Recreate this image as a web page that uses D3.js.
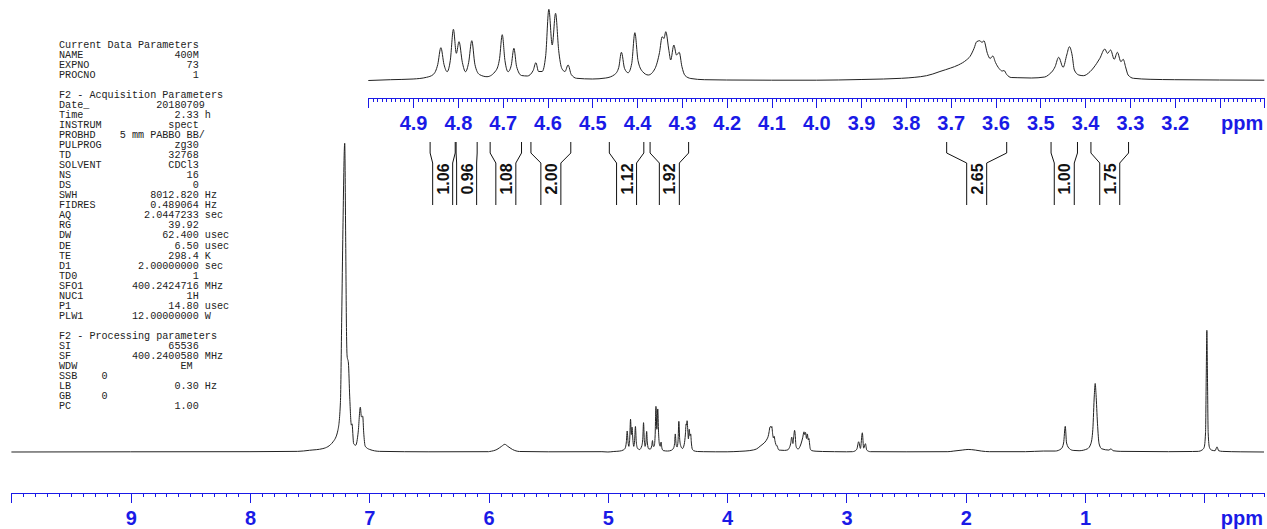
<!DOCTYPE html>
<html>
<head>
<meta charset="utf-8">
<script src="https://cdn.jsdelivr.net/npm/d3@7"></script>
<style>
  html, body { margin: 0; padding: 0; background: #fff; }
  svg { display: block; }
  .params text { font-family: "Liberation Mono", "DejaVu Sans Mono", monospace; font-size: 10.15px; fill: #222; white-space: pre; }
  .axis text { font-family: "Liberation Sans", Arial, sans-serif; font-weight: bold; font-size: 20px; fill: #1a1ae6; }
  .axis path, .axis line { stroke: #1a1ae6; stroke-width: 1; shape-rendering: crispEdges; }
  .integral text { font-family: "Liberation Sans", Arial, sans-serif; font-weight: bold; font-size: 16px; fill: #111; }
</style>
</head>
<body>
<svg id="chart" width="1267" height="529"></svg>
<script>
// 1H spectrum trace, [ppm, intensity] pairs (descending ppm).
const traceHigh = [
  [10.0,0],[9.0,0.3],[8.0,0.5],[7.6,1],[7.5,2.7],[7.389,5.3],[7.305,15.6],[7.263,34],[7.242,77],
  [7.231,211],[7.221,347],[7.206,482],[7.198,336],[7.191,188],[7.186,150],[7.175,139],[7.164,86],
  [7.150,42],[7.145,44],[7.131,13],[7.114,10.5],[7.093,31],[7.075,70],[7.066,55],[7.055,56],
  [7.047,31],[7.034,9],[6.997,4],[6.913,1],[6.5,0.3],[6.0,0.5],[5.99,0.8],[5.93,4],[5.89,9],
  [5.864,12],[5.84,9],[5.80,4],[5.74,0.8],[5.5,0.3],[5.05,0.5]
];
const traceMid = [
  [5.00,0],[4.95,0.8],[4.90,1.5],[4.87,3.2],[4.855,6],[4.845,16],[4.838,32.8],[4.831,16],[4.824,8.8],
  [4.817,20],[4.810,51.2],[4.8035,27.2],[4.7975,38.8],[4.790,18],[4.783,8.8],[4.776,18],[4.769,39.8],
  [4.762,16],[4.752,6],[4.735,3.8],[4.715,10],[4.707,22],[4.701,45.8],[4.695,20],[4.688,8.8],
  [4.681,15],[4.675,32.2],[4.669,14],[4.658,5],[4.645,4.5],[4.632,10],[4.626,17.8],[4.620,9],
  [4.612,9],[4.604,25],[4.597,71.2],[4.5895,35.5],[4.582,67.2],[4.575,30],[4.568,12],[4.561,9],
  [4.554,15.5],[4.547,6],[4.535,2.2],[4.50,1.5],[4.47,2.5],[4.45,6],[4.441,13],[4.435,28.2],
  [4.428,12],[4.420,7.8],[4.412,17],[4.405,47.8],[4.398,20],[4.388,9],[4.375,5.5],[4.360,12],
  [4.350,28],[4.344,43.8],[4.340,42],[4.336,48.8],[4.329,30],[4.325,20.5],[4.318,35.5],[4.312,25.5],
  [4.306,28.2],[4.300,14],[4.293,5],[4.28,2],[4.25,0.8],[4.20,0.5],[4.10,0.3],[4.00,0.3],
  [3.90,1],[3.85,1.5],[3.81,2.2],[3.78,3.2],[3.754,4.8],[3.74,6.5],[3.724,9],[3.70,12.5],
  [3.683,15.5],[3.665,20.5],[3.657,24],[3.648,32],[3.642,38.8],[3.635,39.8],[3.630,38],[3.626,39.8],
  [3.618,27],[3.612,22],[3.606,24.5],[3.600,18],[3.592,12],[3.585,9.5],[3.581,10],[3.575,6],
  [3.565,3],[3.55,2.8],[3.52,2.5],[3.49,3.5],
  [3.482,5.5],[3.467,13.8],[3.459,23.2],[3.449,13.2],[3.441,25.5],[3.435,33.8],[3.429,25.5],
  [3.424,10.5],[3.414,5.5],[3.404,4.8],[3.389,8.8],[3.374,17.2],[3.367,22.2],[3.356,31.5],
  [3.350,27.2],[3.343,30.5],[3.335,21.2],[3.328,28.2],[3.320,18.8],[3.315,21.2],[3.309,12.5],
  [3.304,5.5],[3.292,2.2],[3.255,1.2],[3.20,0.8],[3.10,0.5],[3.00,0.3]
];
const traceLow = [
  [2.95,0.5],[2.93,1.5],[2.912,5],[2.898,16],[2.883,5.6],[2.867,30],[2.856,6],[2.841,13],[2.83,3],
  [2.80,0.5],[2.5,0.3],[2.15,0.5],[2.10,1.5],[2.03,3],[1.98,4],[1.92,3],[1.87,1.5],[1.80,0.5],
  [1.5,0.5],[1.35,1.5],[1.25,1.5],[1.20,5],[1.18,14],[1.166,40],[1.155,14],[1.13,5],[1.10,2.5],
  [1.05,2],[0.98,5],[0.952,12.6],[0.935,35],[0.922,90],[0.915,107],[0.908,90],[0.896,45],
  [0.882,12.6],[0.86,5],[0.80,3],[0.783,5],[0.765,2],[0.70,1],[0.30,0.5],[0.10,0.8],[0.05,1],
  [0.02,3],[0.002,7],[-0.010,30],[-0.016,120],[-0.021,190],[-0.026,120],[-0.032,30],[-0.043,7],
  [-0.06,3],[-0.09,2],[-0.106,8],[-0.12,2],[-0.15,1],[-0.3,0.3],[-0.5,0]
];

// Integral regions (ppm limits) and their values
const integralFrom   = [4.862, 4.804, 4.728, 4.637, 4.462, 4.371, 3.709, 3.476, 3.387];
const integralTo     = [4.806, 4.757, 4.658, 4.548, 4.385, 4.285, 3.575, 3.417, 3.303];
const integralLabels = ["1.06", "0.96", "1.08", "2.00", "1.12", "1.92", "2.65", "1.00", "1.75"];

// Axis ticks
const mainMajorTicks = [10, 9, 8, 7, 6, 5, 4, 3, 2, 1, 0];
const mainTickLabels = ["", "9", "8", "7", "6", "5", "4", "3", "2", "1", ""];
const insetMajorTicks = [5.0, 4.9, 4.8, 4.7, 4.6, 4.5, 4.4, 4.3, 4.2, 4.1, 4.0, 3.9, 3.8, 3.7, 3.6, 3.5, 3.4, 3.3, 3.2, 3.1, 3.0];
const insetTickLabels = ["", "4.9", "4.8", "4.7", "4.6", "4.5", "4.4", "4.3", "4.2", "4.1", "4.0", "3.9", "3.8", "3.7", "3.6", "3.5", "3.4", "3.3", "3.2", "", ""];

// Acquisition / processing parameter listing: [name, value, unit, value end column]
const paramHeader1 = "Current Data Parameters";
const paramGroup1 = [["NAME","400M"],["EXPNO","73"],["PROCNO","1"]];
const paramHeader2 = "F2 - Acquisition Parameters";
const paramGroup2 = [
  ["Date_","20180709","",24],["Time","2.33","h"],["INSTRUM","spect"],["PROBHD","5 mm PABBO BB/","",24],
  ["PULPROG","zg30"],["TD","32768"],["SOLVENT","CDCl3"],["NS","16"],["DS","0"],
  ["SWH","8012.820","Hz"],["FIDRES","0.489064","Hz"],["AQ","2.0447233","sec"],["RG","39.92"],
  ["DW","62.400","usec"],["DE","6.50","usec"],["TE","298.4","K"],["D1","2.00000000","sec"],
  ["TD0","1"],["SFO1","400.2424716","MHz"],["NUC1","1H"],["P1","14.80","usec"],["PLW1","12.00000000","W"]
];
const paramHeader3 = "F2 - Processing parameters";
const paramGroup3 = [
  ["SI","65536"],["SF","400.2400580","MHz"],["WDW","EM","",22],["SSB","0","",8],
  ["LB","0.30","Hz"],["GB","0","",8],["PC","1.00"]
];

const svg = d3.select("#chart");

// ---------- scales ----------
const xMain = d3.scaleLinear().domain([10.0, -0.5]).range([11.4, 1264]);
const yMain = d3.scaleLinear().domain([0, 482]).range([452, 143.3]);
const xInset = d3.scaleLinear().domain([5.0, 3.0]).range([368.3, 1264.3]);
const yInset = d3.scaleLinear().domain([0, 71.2]).range([80.5, 9.3]);

const fullTrace = traceHigh.concat(traceMid, traceLow);

// ---------- spectrum traces ----------
const mainLine = d3.line().x(d => xMain(d[0])).y(d => yMain(d[1])).curve(d3.curveMonotoneX);
svg.append("path").datum(fullTrace)
  .attr("d", mainLine).attr("fill", "none").attr("stroke", "#222").attr("stroke-width", 1);

const insetLine = d3.line().x(d => xInset(d[0])).y(d => yInset(d[1])).curve(d3.curveMonotoneX);
svg.append("path").datum(traceMid)
  .attr("d", insetLine).attr("fill", "none").attr("stroke", "#222").attr("stroke-width", 1);

// ---------- axes ----------
function drawAxis(scale, y, majors, labels, minorStep, minorSize) {
  const [d0, d1] = scale.domain();
  const n = Math.round((d0 - d1) / minorStep);
  const minors = d3.range(n + 1).map(i => +(d0 - i * minorStep).toFixed(3));
  const g = svg.append("g").attr("class", "axis").attr("transform", `translate(0,${y})`);
  g.append("g").call(d3.axisBottom(scale).tickValues(minors).tickSize(minorSize).tickSizeOuter(0).tickFormat(""));
  const maj = g.append("g").call(d3.axisBottom(scale).tickValues(majors).tickSize(10).tickSizeOuter(0).tickPadding(8)
    .tickFormat((d, i) => labels[i]));
  maj.select(".domain").remove();
  maj.selectAll("text").attr("font-size", null).attr("font-family", null).attr("fill", null);
  g.append("text").attr("x", scale.range()[1] - 1).attr("y", 32).attr("text-anchor", "end").text("ppm");
  g.selectAll(".domain").attr("stroke", null);
  g.selectAll(".tick line").attr("stroke", null);
}
drawAxis(xMain, 493, mainMajorTicks, mainTickLabels, 0.1, 4);
drawAxis(xInset, 98, insetMajorTicks, insetTickLabels, 0.01, 3.5);

// ---------- integrals ----------
const ig = svg.append("g").attr("class", "integral");
integralLabels.forEach((lab, i) => {
  const xl = xInset(integralFrom[i]), xr = xInset(integralTo[i]);
  const cx = (xl + xr) / 2;
  const hw = Math.min(10, (xr - xl) / 2);
  const il = cx - hw, ir = cx + hw;
  const pts = (xo, xi) => [[xo, 142], [xo, 153], [xi, 163], [xi, 205]];
  const ln = d3.line();
  ig.append("path").attr("d", ln(pts(xl, il))).attr("fill", "none").attr("stroke", "#111").attr("stroke-width", 1);
  ig.append("path").attr("d", ln(pts(xr, ir))).attr("fill", "none").attr("stroke", "#111").attr("stroke-width", 1);
  ig.append("text")
    .attr("transform", `translate(${cx + 0.5},179) rotate(-90)`)
    .attr("text-anchor", "middle").attr("dominant-baseline", "central")
    .text(lab);
});

// ---------- parameter listing ----------
function fmt(row) {
  const [name, value, unit, end] = row;
  const col = end || 23;
  let s = name.padEnd(col - value.length, " ") + value;
  if (unit) s += " " + unit;
  return s;
}
const lines = [paramHeader1].concat(paramGroup1.map(fmt), [""], [paramHeader2], paramGroup2.map(fmt),
  [""], [paramHeader3], paramGroup3.map(fmt));
const pg = svg.append("g").attr("class", "params");
lines.forEach((t, i) => {
  if (!t) return;
  pg.append("text").attr("x", 59).attr("y", 47.5 + i * 10.05).attr("xml:space", "preserve").text(t);
});
</script>
</body>
</html>
